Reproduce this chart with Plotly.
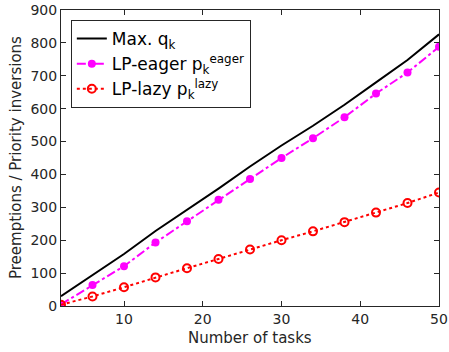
import plotly.graph_objects as go

tasks = [2, 6, 10, 14, 18, 22, 26, 30, 34, 38, 42, 46, 50]
max_q = [30, 95, 158, 228, 292, 357, 424, 488, 548, 612, 680, 748, 826]
lp_eager = [5, 64, 121, 193, 258, 323, 386, 450, 510, 574, 646, 710, 788]
lp_lazy = [4, 29, 57, 87, 115, 143, 172, 200, 227, 255, 284, 313, 345]

x_ticks = [10, 20, 30, 40, 50]
y_ticks = [0, 100, 200, 300, 400, 500, 600, 700, 800, 900]

axis_col = "#262626"
font = "DejaVu Sans"

fig = go.Figure()
fig.add_trace(go.Scatter(x=tasks, y=max_q, mode="lines", name="Max. q<sub>k</sub>",
                         line=dict(color="black", width=2)))
fig.add_trace(go.Scatter(x=tasks, y=lp_eager, mode="lines+markers",
                         name="LP-eager p<sub>k</sub><sup>eager</sup>",
                         line=dict(color="#ff00ff", width=2, dash="dashdot"),
                         marker=dict(symbol="circle", size=8, color="#ff00ff")))
fig.add_trace(go.Scatter(x=tasks, y=lp_lazy, mode="lines+markers",
                         name="LP-lazy p<sub>k</sub><sup>lazy</sup>",
                         line=dict(color="#ff0000", width=2, dash="dot"),
                         marker=dict(symbol="circle-open", size=8, color="#ff0000",
                                     line=dict(width=2, color="#ff0000"))))

fig.update_layout(
    width=449, height=352,
    margin=dict(l=61, r=10, t=10, b=46),
    plot_bgcolor="white", paper_bgcolor="white",
    font=dict(family=font, size=14, color=axis_col),
    legend=dict(x=0.026, y=0.966, xanchor="left", yanchor="top",
                bordercolor=axis_col, borderwidth=1, bgcolor="white",
                font=dict(size=17, color="black"), itemwidth=30),
    showlegend=True,
    annotations=[
        dict(text="Number of tasks", xref="paper", yref="paper", x=0.5, y=-0.108,
             xanchor="center", yanchor="middle", showarrow=False,
             font=dict(size=15, color=axis_col)),
        dict(text="Preemptions / Priority inversions", xref="paper", yref="paper",
             x=-0.119, y=0.5, xanchor="center", yanchor="middle", textangle=-90,
             showarrow=False, font=dict(size=15, color=axis_col)),
    ],
)
fig.update_xaxes(range=[2, 50], tickvals=x_ticks,
                 ticks="inside", ticklen=5, tickcolor=axis_col,
                 showline=True, linecolor=axis_col, linewidth=1, mirror="ticks",
                 showgrid=False, zeroline=False, automargin=False)
fig.update_yaxes(range=[0, 900], tickvals=y_ticks,
                 ticks="inside", ticklen=5, tickcolor=axis_col,
                 showline=True, linecolor=axis_col, linewidth=1, mirror="ticks",
                 showgrid=False, zeroline=False, automargin=False)

fig.write_html("out.html", config={"displayModeBar": False},
               post_script="document.body.style.margin='0';")
